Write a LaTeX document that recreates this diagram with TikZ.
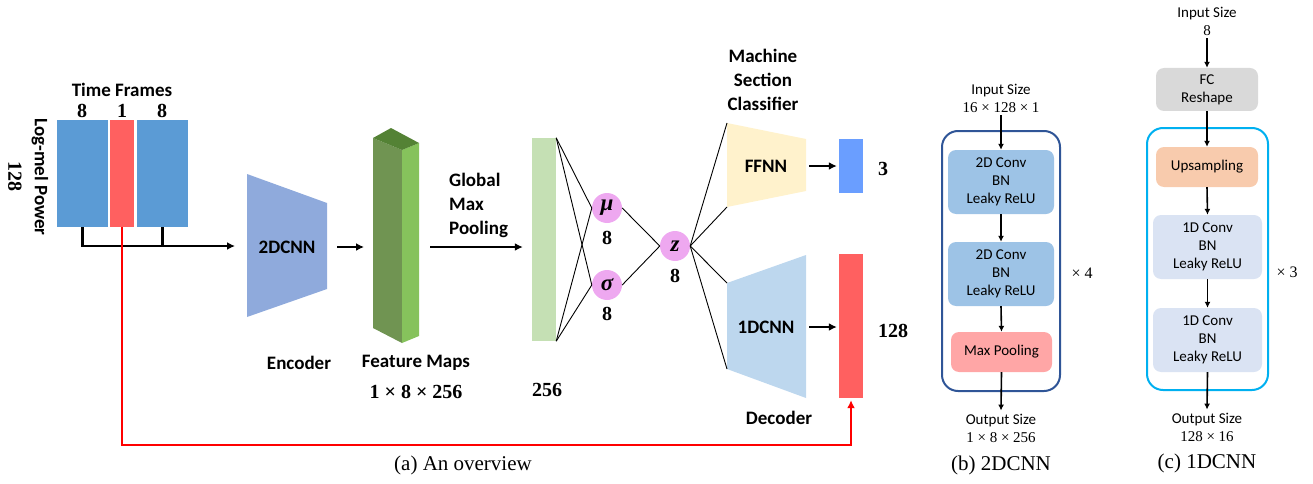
\documentclass[tikz,border=0pt]{standalone}
\usepackage{fontspec}
\newfontfamily\calib{Carlito}
\newfontfamily\capfont{Liberation Serif}
\usetikzlibrary{arrows.meta}

\definecolor{specblue}{RGB}{91,155,213}
\definecolor{specred}{RGB}{255,96,96}
\definecolor{encblue}{RGB}{143,170,220}
\definecolor{fmfront}{RGB}{112,148,82}
\definecolor{fmside}{RGB}{134,194,92}
\definecolor{fmtop}{RGB}{84,130,53}
\definecolor{poolgreen}{RGB}{197,224,180}
\definecolor{latentpink}{RGB}{238,168,240}
\definecolor{ffnnyellow}{RGB}{255,242,204}
\definecolor{decblue}{RGB}{189,215,238}
\definecolor{clsblue}{RGB}{106,158,255}
\definecolor{convblue}{RGB}{157,195,230}
\definecolor{maxpink}{RGB}{255,166,166}
\definecolor{frameblue}{RGB}{47,85,151}
\definecolor{fcgray}{RGB}{217,217,217}
\definecolor{upsorange}{RGB}{248,203,173}
\definecolor{convpale}{RGB}{218,227,243}
\definecolor{framecyan}{RGB}{0,176,240}

\begin{document}
\begin{tikzpicture} [x=1pt, y=-1pt,
        lbl/.style={font=\calib\bfseries\fontsize{19}{24}\selectfont, align=center, inner sep=0},
        num/.style={font=\capfont\bfseries\fontsize{20}{22}\selectfont, inner sep=0},
        small/.style={font=\calib\fontsize{15}{18}\selectfont, align=center, inner sep=0},
        dims/.style={font=\capfont\fontsize{16}{18}\selectfont},
        captxt/.style={font=\capfont\fontsize{21}{24}\selectfont, inner sep=0},
        block/.style={inner sep=0, minimum width=#1},
        latent/.style={circle, fill=latentpink, minimum size=30, inner sep=0, font=\capfont\bfseries\itshape\fontsize{23}{23}\selectfont},
        layer/.style={rounded corners=8pt, small, inner sep=0},
        frm/.style={rounded corners=16pt, line width=2pt, minimum width=#1},
        arr/.style={-{Latex[length=8pt,width=8pt]}, line width=2.2pt},
        sarr/.style={-{Latex[length=6pt,width=6pt]}, line width=1.6pt},
        net/.style={line width=0.9pt} ]
    \useasboundingbox (0,0) rectangle (1313,484);

    % input spectrogram
    \node[block=51, fill=specblue, minimum height=107] (left8) at (82.5,173.5) {};
    \node[block=24, fill=specred, minimum height=107] (mid1) at (122,173.5) {};
    \node[block=51, fill=specblue, minimum height=107] (right8) at (162.5,173.5) {};
    \node[lbl] (frames) at (122,90) {Time Frames};
    \node[num] (n8a) at (82,111) {8};
    \node[num] (n1) at (122,111) {1};
    \node[num] (n8b) at (162,111) {8};
    \node[lbl, rotate=-90] (melpow) at (40,177) {Log-mel Power};
    \node[num, rotate=-90] (melnum) at (15,176) {128};

    % encoder
    \fill[encblue] (247,174) -- (327,203) -- (327,289) -- (247,317) -- cycle;
    \coordinate (enc-w) at (247,246);
    \coordinate (enc-e) at (327,247);
    \node[lbl] (enc) at (287,247) {2DCNN};
    \node[lbl] (enclbl) at (299,363) {Encoder};
    \draw[arr] (left8.south) |- ([xshift=-12]enc-w);
    \draw[line width=2.2pt] (right8.south) -- (right8.south |- enc-w);

    % feature maps
    \fill[fmfront] (373,138) -- (402,150) -- (402,343) -- (373,328) -- cycle;
    \fill[fmside] (402,150) -- (419,143) -- (419,336) -- (402,343) -- cycle;
    \fill[fmtop] (373,138) -- (391,128) -- (419,143) -- (402,150) -- cycle;
    \coordinate (fm-w) at (373,247);
    \coordinate (fm-e) at (419,247);
    \node[lbl] (fmlbl) at (416,363) {Feature Maps};
    \node[num] (fmsize) at (416,392) {1 × 8 × 256};
    \draw[arr] ([xshift=10]enc-e) -- ([xshift=-9]fm-w);

    % pooling and latent
    \node[block=24, fill=poolgreen, minimum height=203] (pool) at (544,239.5) {};
    \node[num] (poolnum) at (547,390) {256};
    \draw[arr] ([xshift=11]fm-e) -- ([xshift=-9]pool.west |- fm-e);
    \node[lbl, align=left, anchor=west] (gmp) at (449,205) {Global\\Max\\Pooling};
    \node[latent] (mu) at (607,208) {μ};
    \node[latent] (sigma) at (607,285) {σ};
    \node[latent] (z) at (675,246) {z};
    \node[num] (mudim) at (607,238) {8};
    \node[num] (sigmadim) at (607,314) {8};
    \node[num] (zdim) at (675,276) {8};
    \draw[net] (pool.north east) -- (mu.west);
    \draw[net] (pool.north east) -- (sigma.west);
    \draw[net] (pool.south east) -- (mu.west);
    \draw[net] (pool.south east) -- (sigma.west);
    \draw[net] (mu.east) -- (z.west);
    \draw[net] (sigma.east) -- (z.west);

    % classifier
    \fill[ffnnyellow] (727,123) coordinate (ffnn-tl) -- (806,139) -- (806,191) -- (727,207) coordinate (ffnn-bl) -- cycle;
    \node[lbl] (ffnn) at (766,166) {FFNN};
    \node[lbl] (clslbl) at (763,80) {Machine\\Section\\Classifier};
    \node[block=24, fill=clsblue, minimum height=54] (cls) at (851,166) {};
    \node[num] (clsnum) at (883,169) {3};
    \draw[arr] ([xshift=3]ffnn.east -| 806,0) -- ([xshift=-2]cls.west);

    % decoder
    \fill[decblue] (727,283) coordinate (dec-tl) -- (806,255) -- (806,398) -- (727,369) coordinate (dec-bl) -- cycle;
    \node[lbl] (dec) at (766,327) {1DCNN};
    \node[lbl] (declbl) at (779,418) {Decoder};
    \node[block=24, fill=specred, minimum height=144] (recon) at (851,326) {};
    \node[num] (reconnum) at (893,331) {128};
    \draw[arr] ([xshift=3]dec.east -| 806,0) -- ([xshift=-2]recon.west |- dec.east);

    \draw[net] (z.east) -- (ffnn-tl);
    \draw[net] (z.east) -- (ffnn-bl);
    \draw[net] (z.east) -- (dec-tl);
    \draw[net] (z.east) -- (dec-bl);

    % skip of the target frame
    \coordinate (loop) at (0,445);
    \draw[arr, red, line width=2.2pt] (mid1.south) -- (mid1.south |- loop) -| ([yshift=-2]recon.south);

    \node[captxt] (capa) at (463,465) {(a) An overview};

    % 2DCNN detail
    \node[frm=118, draw=frameblue, minimum height=260] (frame2d) at (1001,261) {};
    \node[small] (in2d) at (1001,98) {Input Size\\{\capfont 16 × 128 × 1}};
    \node[layer, fill=convblue, minimum width=106, minimum height=64] (conv2a) at (1001,182) {2D Conv\\BN\\Leaky ReLU};
    \node[layer, fill=convblue, minimum width=106, minimum height=64] (conv2b) at (1001,274) {2D Conv\\BN\\Leaky ReLU};
    \node[layer, fill=maxpink, minimum width=101, minimum height=40] (maxpool) at (1001.5,352) {Max Pooling};
    \node[small] (out2d) at (1001,428) {Output Size\\{\capfont 1 × 8 × 256}};
    \node[dims] (rep4) at (1082,273) {× 4};
    \draw[sarr] ([yshift=-3]in2d.south) -- (conv2a.north);
    \draw[sarr] (conv2a.south) -- (conv2b.north);
    \draw[sarr] (conv2b.south) -- (maxpool.north);
    \draw[sarr] (maxpool.south) -- ([yshift=3]out2d.north);
    \node[captxt] (capb) at (1001,465) {(b) 2DCNN};

    % 1DCNN detail
    \node[frm=121, draw=framecyan, minimum height=262] (frame1d) at (1207.5,259) {};
    \node[small] (in1d) at (1207,21) {Input Size\\{\capfont 8}};
    \node[layer, fill=fcgray, minimum width=102, minimum height=43] (fc) at (1207,89.5) {FC\\Reshape};
    \node[layer, fill=upsorange, minimum width=102, minimum height=40] (ups) at (1207,167) {Upsampling};
    \node[layer, fill=convpale, minimum width=109, minimum height=64] (conv1a) at (1207.5,247) {1D Conv\\BN\\Leaky ReLU};
    \node[layer, fill=convpale, minimum width=109, minimum height=64] (conv1b) at (1207.5,340) {1D Conv\\BN\\Leaky ReLU};
    \node[small] (out1d) at (1207,427) {Output Size\\{\capfont 128 × 16}};
    \node[dims] (rep3) at (1287,272) {× 3};
    \draw[sarr] ([yshift=-3]in1d.south) -- (fc.north);
    \draw[sarr] (fc.south) -- (ups.north);
    \draw[sarr] (ups.south) -- (conv1a.north);
    \draw[sarr] (conv1a.south) -- (conv1b.north);
    \draw[sarr] (conv1b.south) -- ([yshift=3]out1d.north);
    \node[captxt] (capc) at (1207,463) {(c) 1DCNN};
\end{tikzpicture}
\end{document}
